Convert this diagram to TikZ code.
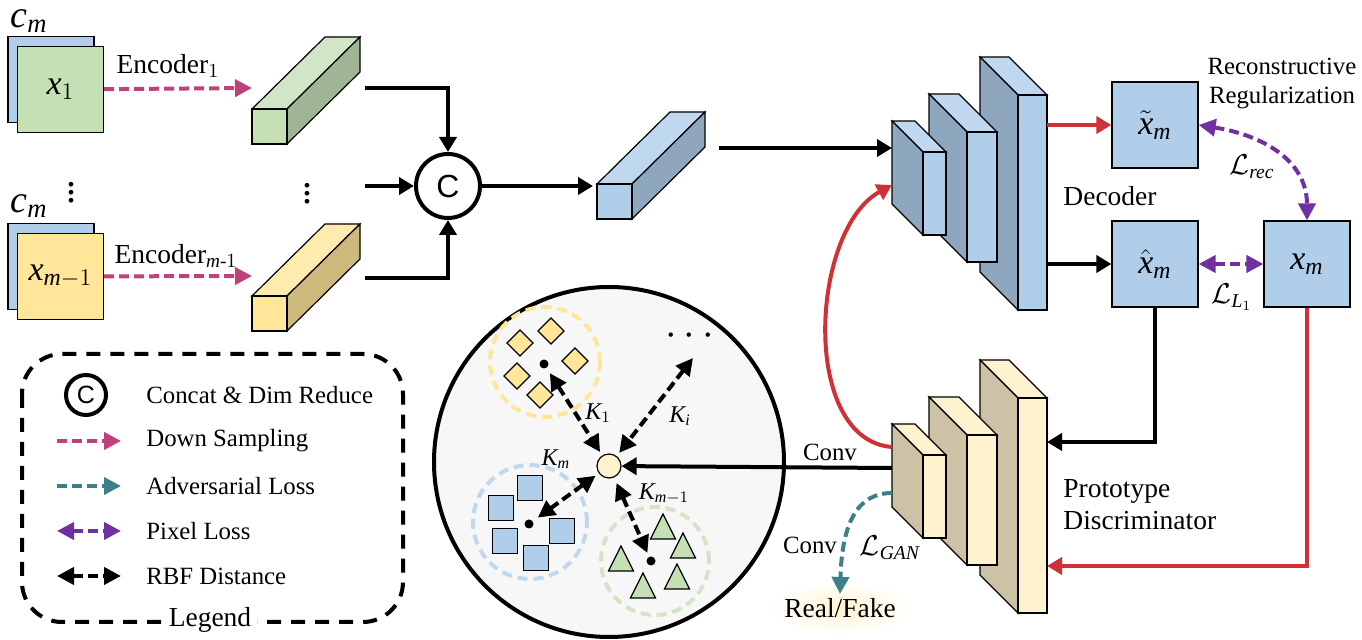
\documentclass[tikz,border=0pt]{standalone}
\usepackage{amsmath}
\usepackage{fontspec}
\setmainfont{Liberation Serif}
\newfontfamily\csans{Liberation Sans}
\newfontfamily\varfont{Liberation Serif Italic}
\usetikzlibrary{arrows.meta}

\newcommand{\tvar}[1]{\text{\varfont #1}}

\definecolor{encpink}{HTML}{C0407A}
\definecolor{advteal}{HTML}{3A818A}
\definecolor{pixpurple}{HTML}{7030A0}
\definecolor{recred}{HTML}{CF3236}
\definecolor{boxblue}{HTML}{B0CDE9}
\definecolor{topblue}{HTML}{C0D8EF}
\definecolor{sideblue}{HTML}{8EA7BF}
\definecolor{boxgreen}{HTML}{C5E0B4}
\definecolor{topgreen}{HTML}{D2E6C7}
\definecolor{sidegreen}{HTML}{A0B594}
\definecolor{boxyellow}{HTML}{FFE699}
\definecolor{topyellow}{HTML}{FFEBB0}
\definecolor{sideyellow}{HTML}{CDB97C}
\definecolor{boxcream}{HTML}{FFF2CF}
\definecolor{sidecream}{HTML}{CCC2A5}
\definecolor{spacegray}{HTML}{F7F7F7}

\tikzset{
    face/.style={draw, line width=0.6pt},
    imgbox/.style={draw, line width=0.6pt, minimum size=43pt, inner sep=0pt},
    conn/.style={line width=2pt, -{Triangle[length=7.5pt,width=8.5pt]}},
    downs/.style={encpink, line width=2pt, dash pattern=on 5pt off 2.5pt, -{Triangle[length=8.5pt,width=8.5pt]}},
    advl/.style={advteal, line width=2pt, dash pattern=on 5pt off 2.5pt, -{Triangle[length=8.5pt,width=8.5pt]}},
    pixl/.style={pixpurple, line width=2pt, dash pattern=on 5pt off 2.5pt, {Triangle[length=8.5pt,width=8.5pt]}-{Triangle[length=8.5pt,width=8.5pt]}},
    rbf/.style={line width=2pt, dash pattern=on 5pt off 2.5pt, {Triangle[length=8.5pt,width=8.5pt]}-{Triangle[length=8.5pt,width=8.5pt]}},
    lbl/.style={font=\fontsize{13.75pt}{16pt}\selectfont, inner sep=0pt},
    smalltxt/.style={font=\fontsize{12.4pt}{14.5pt}\selectfont, inner sep=0pt},
    mathlbl/.style={font=\fontsize{17pt}{18pt}\selectfont, inner sep=0pt},
    klbl/.style={font=\fontsize{12pt}{13pt}\selectfont, inner sep=0pt},
    dotlbl/.style={font=\fontsize{20pt}{20pt}\selectfont, inner sep=0pt},
    cluster/.style={circle, draw, line width=2pt, dash pattern=on 5pt off 3pt, inner sep=0pt},
    concat/.style={circle, draw, line width=2pt, inner sep=0pt, font=\csans\fontsize{16pt}{18pt}\selectfont},
    cdot/.style={circle, fill, inner sep=0pt, minimum size=4.5pt}
}

\begin{document}
\begin{tikzpicture}[x=0.5pt, y=-0.5pt]
    \useasboundingbox (0,0) rectangle (1362,640);

    % Draw input images
    \node[imgbox, fill=boxblue] (in1b) at (51,79.5) {};
    \node[imgbox, fill=boxgreen, mathlbl] (in1) at (60.5,89.5) {$\tvar{x}_1$};
    \node[imgbox, fill=boxblue] (in2b) at (51,266.5) {};
    \node[imgbox, fill=boxyellow, mathlbl] (in2) at (60.5,276.5) {$\tvar{x}_{\tvar{m}-1}$};
    \node[font=\fontsize{19pt}{20pt}\selectfont, inner sep=0pt] (cm1) at (29,21) {$\tvar{c}_{\tvar{m}}$};
    \node[font=\fontsize{19pt}{20pt}\selectfont, inner sep=0pt] (cm2) at (29,206) {$\tvar{c}_{\tvar{m}}$};
    \node[dotlbl] (vd1) at (72,187) {$\vdots$};
    \node[dotlbl] (vd2) at (307,188) {$\vdots$};

    % Draw encoder features
    \foreach \x/\y/\fc/\tc/\sc in {252/109/boxgreen/topgreen/sidegreen, 252/296/boxyellow/topyellow/sideyellow, 597/184/boxblue/topblue/sideblue} {
        \filldraw[face, fill=\tc] (\x,\y) -- ++(35,0) -- ++(73,-72) -- ++(-35,0) -- cycle;
        \filldraw[face, fill=\sc] (\x+35,\y) -- ++(0,35) -- ++(73,-72) -- ++(0,-35) -- cycle;
        \filldraw[face, fill=\fc] (\x,\y) rectangle ++(35,35);
    }
    \coordinate (enc1in) at (252,88);
    \coordinate (enc1out) at (365,88);
    \coordinate (enc2in) at (252,276);
    \coordinate (enc2out) at (365,278);
    \coordinate (encmid) at (365,186);
    \coordinate (midin) at (593,186);
    \coordinate (midout) at (719,148);

    \draw[downs] (in1) -- (enc1in);
    \draw[downs] (in2) -- (enc2in);
    \node[lbl] (enc1lbl) at (168,66) {Encoder$_1$};
    \node[lbl] (enc2lbl) at (176,256) {Encoder$_{\tvar{m}\text{-}1}$};

    % Draw concat
    \node[concat, minimum size=32pt] (cat) at (448,186) {C};
    \draw[conn] (enc1out) -| (cat);
    \draw[conn] (enc2out) -| (cat);
    \draw[conn] (encmid) -- (cat);
    \draw[conn] (cat) -- (midin);

    % Draw decoder and discriminator
    \foreach \x/\y/\w/\h/\d in {1018/95/29/215/38, 967/132/30/130/38, 923/152/23/83/31} {
        \filldraw[face, fill=topblue] (\x,\y) -- ++(\w,0) -- ++(-\d,-\d) -- ++(-\w,0) -- cycle;
        \filldraw[face, fill=sideblue] (\x,\y) -- ++(0,\h) -- ++(-\d,-\d) -- ++(0,-\h) -- cycle;
        \filldraw[face, fill=boxblue] (\x,\y) rectangle ++(\w,\h);
    }
    \foreach \x/\y/\w/\h/\d in {1018/398/29/215/38, 967/435/30/130/38, 923/455/23/83/31} {
        \filldraw[face, fill=boxcream] (\x,\y) -- ++(\w,0) -- ++(-\d,-\d) -- ++(-\w,0) -- cycle;
        \filldraw[face, fill=sidecream] (\x,\y) -- ++(0,\h) -- ++(-\d,-\d) -- ++(0,-\h) -- cycle;
        \filldraw[face, fill=boxcream] (\x,\y) rectangle ++(\w,\h);
    }
    \coordinate (decin) at (892,148);
    \coordinate (decloop) at (892,185);
    \coordinate (decout1) at (1047,125);
    \coordinate (decout2) at (1047,264);
    \coordinate (disin1) at (1047,442);
    \coordinate (disin2) at (1047,566);
    \coordinate (disloop) at (892,447);
    \coordinate (disconv) at (892,468);
    \coordinate (disadv) at (892,493);
    \node[lbl] (declbl) at (1110,196) {Decoder};
    \node[lbl, anchor=west, align=left] (dislbl) at (1063,505) {Prototype\\Discriminator};

    % Draw outputs
    \node[imgbox, fill=boxblue, mathlbl] (xtil) at (1155,125) {$\tilde{\tvar{x}}_{\tvar{m}}$};
    \node[imgbox, fill=boxblue, mathlbl] (xhat) at (1155,264) {$\hat{\tvar{x}}_{\tvar{m}}$};
    \node[imgbox, fill=boxblue, mathlbl] (xm) at (1307,264) {$\tvar{x}_{\tvar{m}}$};
    \node[smalltxt, align=center] (reglbl) at (1282,83) {Reconstructive\\Regularization};

    \draw[conn] (midout) -- (decin);
    \draw[conn, recred] (decout1) -- (xtil);
    \draw[conn] (decout2) -- (xhat);
    \draw[pixl] (xhat) -- (xm);
    \draw[pixl] (xtil.east) .. controls (1262,135) and (1307,160) .. (xm.north);
    \node[font=\fontsize{14pt}{16pt}\selectfont, inner sep=0pt] (lrec) at (1252,167) {$\mathcal{L}_{\tvar{rec}}$};
    \node[font=\fontsize{14pt}{16pt}\selectfont, inner sep=0pt] (ll1) at (1232,297) {$\mathcal{L}_{\tvar{L}_1}$};
    \draw[conn] (xhat.south) |- (disin1);
    \draw[conn, recred] (xm.south) |- (disin2);
    \draw[conn, recred] (disloop) .. controls (800,440) and (810,230) .. (decloop);

    % Draw prototype space
    \node[circle, draw, fill=spacegray, line width=2pt, minimum size=175pt] (space) at (609,462) {};
    \node[cluster, draw=boxyellow, minimum size=55pt] (ycl) at (545,362) {};
    \node[cluster, draw=topblue, minimum size=57pt] (bcl) at (530,522) {};
    \node[cluster, draw=topgreen, minimum size=54pt] (gcl) at (655,561) {};
    \foreach \cx/\cy in {520/343, 551/331, 575/361, 517/376, 540/395}
        \filldraw[face, fill=boxyellow] (\cx,\cy-13) -- (\cx+13,\cy) -- (\cx,\cy+13) -- (\cx-13,\cy) -- cycle;
    \foreach \cx/\cy in {530/488, 501/508, 562/531, 505/541, 536/558}
        \filldraw[face, fill=boxblue] (\cx-12.5,\cy-12.5) rectangle (\cx+12.5,\cy+12.5);
    \foreach \cx/\cy in {663/527, 683/546, 621/559, 643/586, 677/577}
        \filldraw[face, fill=boxgreen] (\cx,\cy-13) -- (\cx+12.5,\cy+12) -- (\cx-12.5,\cy+12) -- cycle;
    \node[cdot] (ycen) at (544,364) {};
    \node[cdot] (bcen) at (529,524) {};
    \node[cdot] (gcen) at (651,561) {};
    \node[circle, draw, fill=boxcream, line width=0.6pt, minimum size=12pt, inner sep=0pt] (proto) at (609,466) {};
    \coordinate (kifree) at (693,358);
    \node[dotlbl] (more) at (693,336) {$\cdots$};

    \draw[rbf, shorten <=3pt, shorten >=2pt] (ycen) -- (proto);
    \draw[rbf, shorten >=2pt] (kifree) -- (proto);
    \draw[rbf, shorten <=2pt, shorten >=3pt] (proto) -- (bcen);
    \draw[rbf, shorten <=3pt, shorten >=2pt] (proto) -- (gcen);
    \node[klbl] (k1) at (598,413) {$\tvar{K}_1$};
    \node[klbl] (ki) at (680,416) {$\tvar{K}_{\tvar{i}}$};
    \node[klbl] (km) at (556,459) {$\tvar{K}_{\tvar{m}}$};
    \node[klbl] (km1) at (664,494) {$\tvar{K}_{\tvar{m}-1}$};

    \draw[conn] (disconv) -- (proto);
    \node[smalltxt] (conv1) at (830,452) {Conv};

    % Draw adversarial output
    \shade[inner color=boxcream, outer color=white] (840,608) ellipse (36pt and 13pt);
    \node[lbl, inner sep=2pt] (rf) at (840,608) {Real/Fake};
    \draw[advl] (disadv) .. controls (858,493) and (842,522) .. (rf.north);
    \node[smalltxt] (conv2) at (810,545) {Conv};
    \node[font=\fontsize{14pt}{16pt}\selectfont, inner sep=0pt] (lgan) at (890,548) {$\mathcal{L}_{\tvar{GAN}}$};

    % Draw legend
    \draw[line width=2pt, dash pattern=on 7pt off 5pt, rounded corners=20pt] (22,354) rectangle (403,622);
    \node[lbl, fill=white, inner sep=3pt] (legend) at (210,620) {Legend};
    \node[concat, minimum size=20pt, font=\csans\fontsize{12.5pt}{14pt}\selectfont] (lgcat) at (86,395) {C};
    \node[smalltxt, anchor=west] (lgtxt) at (146,395) {Concat \& Dim Reduce};
    \foreach \s/\y/\t in {downs/441/Down Sampling, advl/486/Adversarial Loss, pixl/531/Pixel Loss, rbf/576/RBF Distance} {
        \node[smalltxt, anchor=west] (lg\y) at (146,\y) {\t};
        \coordinate (ls\y) at (57,\y);
        \draw[\s] (ls\y) -- ([xshift=-12.5pt]lg\y.west);
    }
\end{tikzpicture}
\end{document}
